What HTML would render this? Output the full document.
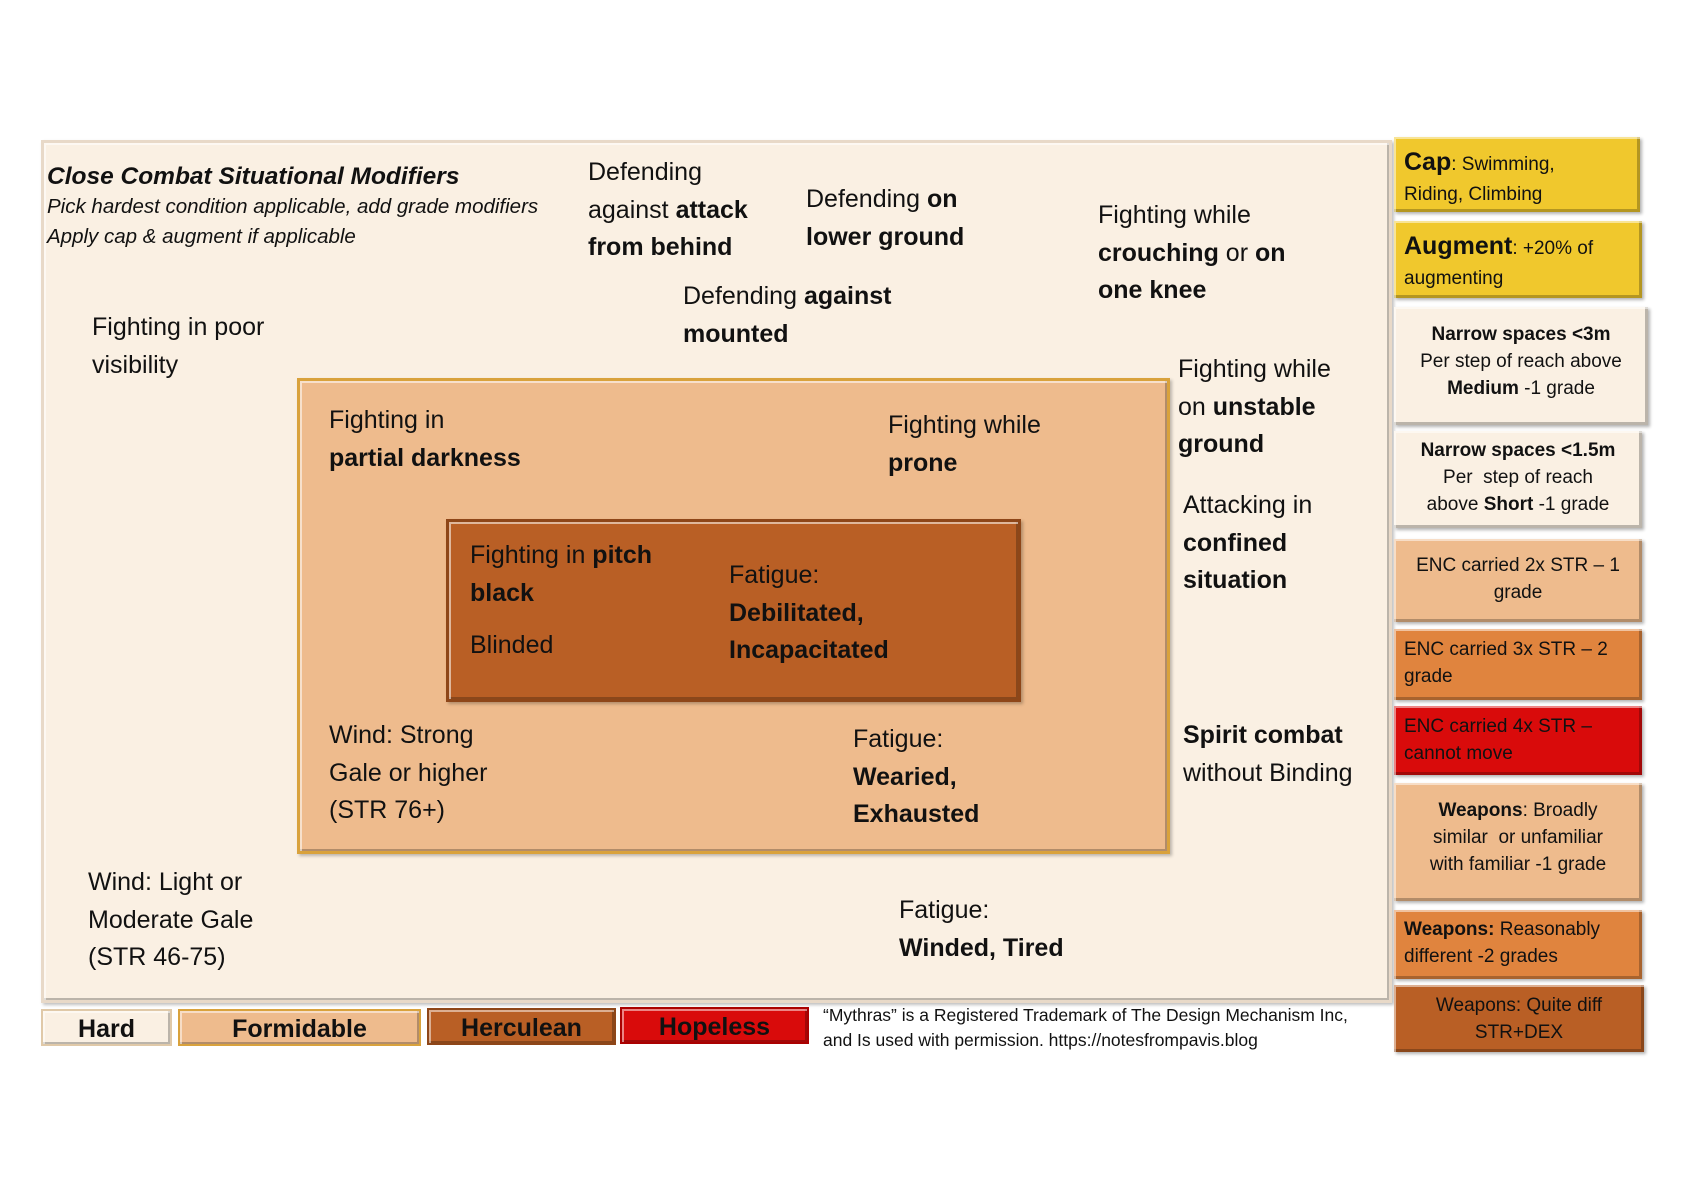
<!DOCTYPE html>
<html><head><meta charset="utf-8"><style>
body{margin:0;width:1683px;height:1190px;background:#fff;position:relative;overflow:hidden;font-family:"Liberation Sans",sans-serif;color:#111}
.b{position:absolute;box-sizing:border-box;box-shadow:inset 2px 2px 0 rgba(255,255,255,.55),inset -2px -2px 0 rgba(0,0,0,.25),2px 2px 3px rgba(0,0,0,.25)}
.t{position:absolute;font-size:25px;line-height:37.5px;white-space:nowrap}
.p{position:absolute;box-sizing:border-box;font-size:19px;line-height:27px;padding:8px 10px;box-shadow:inset 2px 2px 0 rgba(255,255,255,.5),inset -3px -3px 0 rgba(0,0,0,.25),2px 2px 3px rgba(0,0,0,.3)}
.c{text-align:center}
.l{position:absolute;box-sizing:border-box;font-weight:bold;font-size:25px;text-align:center;line-height:36px;box-shadow:inset 2px 2px 0 rgba(255,255,255,.5),inset -2px -2px 0 rgba(0,0,0,.25)}
</style></head><body>
<div class="b" style="left:41px;top:140px;width:1351px;height:863px;background:#faf0e3;border:3px solid #e8d9c8"></div>
<div class="b" style="left:297px;top:378px;width:873px;height:476px;background:#eebb8d;border:3px solid #d9a23c"></div>
<div class="b" style="left:446px;top:519px;width:575px;height:183px;background:#b95f25;border:3px solid #8e4618"></div>

<div class="t" style="left:47px;top:158px;font-size:24.5px;font-weight:bold;font-style:italic">Close Combat Situational Modifiers</div>
<div class="t" style="left:47px;top:192px;font-size:20.5px;line-height:30px;font-style:italic">Pick hardest condition applicable, add grade modifiers<br>Apply cap &amp; augment if applicable</div>

<div class="t" style="left:588px;top:154px">Defending<br>against <b>attack</b><br><b>from behind</b></div>
<div class="t" style="left:806px;top:181px">Defending <b>on</b><br><b>lower ground</b></div>
<div class="t" style="left:1098px;top:197px">Fighting while<br><b>crouching</b> or <b>on</b><br><b>one knee</b></div>
<div class="t" style="left:683px;top:278px">Defending <b>against</b><br><b>mounted</b></div>
<div class="t" style="left:92px;top:309px">Fighting in poor<br>visibility</div>
<div class="t" style="left:1178px;top:351px">Fighting while<br>on <b>unstable</b><br><b>ground</b></div>
<div class="t" style="left:329px;top:402px">Fighting in<br><b>partial darkness</b></div>
<div class="t" style="left:888px;top:407px">Fighting while<br><b>prone</b></div>
<div class="t" style="left:1183px;top:487px">Attacking in<br><b>confined</b><br><b>situation</b></div>
<div class="t" style="left:470px;top:537px">Fighting in <b>pitch</b><br><b>black</b></div>
<div class="t" style="left:470px;top:627px">Blinded</div>
<div class="t" style="left:729px;top:557px">Fatigue:<br><b>Debilitated,</b><br><b>Incapacitated</b></div>
<div class="t" style="left:329px;top:717px">Wind: Strong<br>Gale or higher<br>(STR 76+)</div>
<div class="t" style="left:853px;top:721px">Fatigue:<br><b>Wearied,</b><br><b>Exhausted</b></div>
<div class="t" style="left:1183px;top:717px"><b>Spirit combat</b><br>without Binding</div>
<div class="t" style="left:88px;top:864px">Wind: Light or<br>Moderate Gale<br>(STR 46-75)</div>
<div class="t" style="left:899px;top:892px">Fatigue:<br><b>Winded, Tired</b></div>

<div class="p" style="left:1394px;top:137px;width:246px;height:75px;background:#f0c82d;padding-top:10px;line-height:30px"><b style="font-size:25px">Cap</b>: Swimming,<br>Riding, Climbing</div>
<div class="p" style="left:1394px;top:221px;width:248px;height:77px;background:#f0c82d;padding-top:10px;line-height:30px"><b style="font-size:25px">Augment</b>: +20% of<br>augmenting</div>
<div class="p c" style="left:1394px;top:307px;width:254px;height:118px;background:#faf0e3;padding-top:14px"><b>Narrow spaces &lt;3m</b><br>Per step of reach above<br><b>Medium</b> -1 grade</div>
<div class="p c" style="left:1394px;top:431px;width:248px;height:97px;background:#faf0e3;padding-top:6px"><b>Narrow spaces &lt;1.5m</b><br>Per &nbsp;step of reach<br>above <b>Short</b> -1 grade</div>
<div class="p c" style="left:1394px;top:539px;width:248px;height:83px;background:#eebb8d;padding-top:13px">ENC carried 2x STR – 1<br>grade</div>
<div class="p" style="left:1394px;top:629px;width:248px;height:71px;background:#e0843e;padding-top:7px">ENC carried 3x STR – 2<br>grade</div>
<div class="p" style="left:1394px;top:706px;width:248px;height:69px;background:#d90b0b;padding-top:7px">ENC carried 4x STR –<br>cannot move</div>
<div class="p c" style="left:1394px;top:783px;width:248px;height:118px;background:#eebb8d;padding-top:14px"><b>Weapons</b>: Broadly<br>similar &nbsp;or unfamiliar<br>with familiar -1 grade</div>
<div class="p" style="left:1394px;top:910px;width:248px;height:69px;background:#e0843e;padding-top:6px"><b>Weapons:</b> Reasonably<br>different -2 grades</div>
<div class="p c" style="left:1394px;top:985px;width:250px;height:67px;background:#b95f25;padding-top:7px">Weapons: Quite diff<br>STR+DEX</div>

<div class="l" style="left:41px;top:1009px;width:131px;height:37px;background:#faf0e3;border:2px solid #e0c9a8">Hard</div>
<div class="l" style="left:178px;top:1009px;width:243px;height:37px;background:#eebb8d;border:2px solid #d9a23c">Formidable</div>
<div class="l" style="left:427px;top:1008px;width:189px;height:37px;background:#b95f25;border:2px solid #8e4618">Herculean</div>
<div class="l" style="left:620px;top:1007px;width:189px;height:37px;background:#d90b0b;border:2px solid #a00">Hopeless</div>
<div class="t" style="left:823px;top:1003px;font-size:17.5px;line-height:25px">“Mythras” is a Registered Trademark of The Design Mechanism Inc,<br>and Is used with permission. https://notesfrompavis.blog</div>
</body></html>
